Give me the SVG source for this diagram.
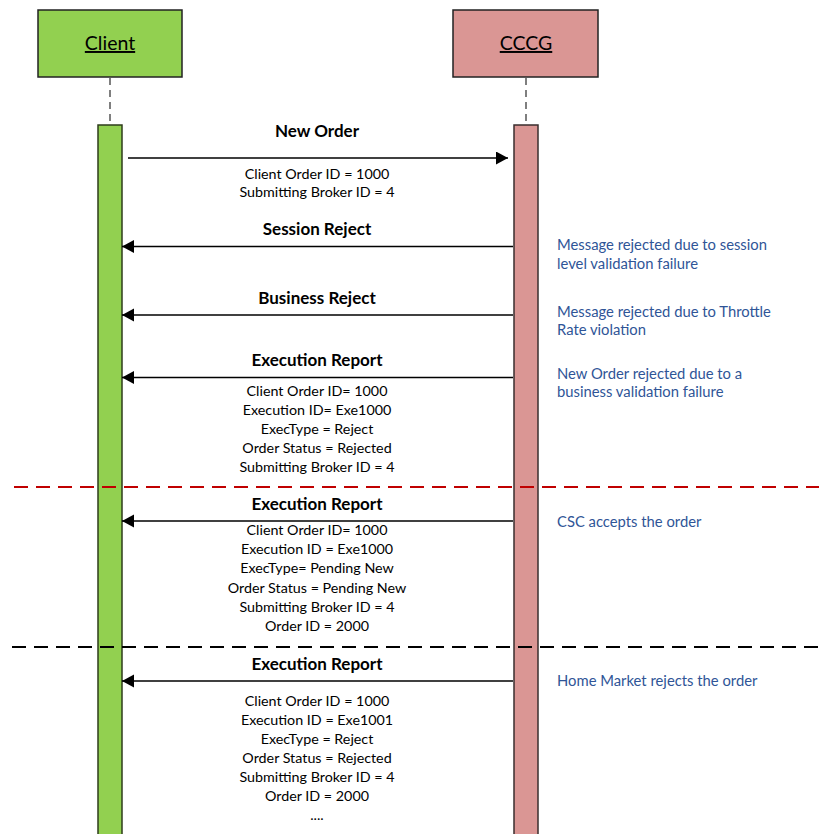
<svg xmlns="http://www.w3.org/2000/svg" width="819" height="834" viewBox="0 0 819 834">
<defs>
<marker id="ah" markerUnits="userSpaceOnUse" markerWidth="13" markerHeight="14" refX="12" refY="6.5" orient="auto">
<path d="M0,0 L12,6.5 L0,13 z" fill="#000"/>
</marker>
<style>
.head{stroke:#222;stroke-width:1.5}
.lbl{font-family:Lato,"Liberation Sans",sans-serif;}
.title{font-size:19.5px;text-decoration:underline;text-anchor:middle;fill:#000}
.msg{font-size:17px;font-weight:bold;text-anchor:middle;fill:#000}
.det{font-size:14.3px;text-anchor:middle;fill:#000}
.note{font-size:14.8px;fill:#2F5597}
.life{stroke:#555;stroke-width:1.5;stroke-dasharray:7,5}
.arr{stroke:#000;stroke-width:1.5;marker-end:url(#ah)}
</style>
</defs>
<rect width="819" height="834" fill="#fff"/>
<g id="client">
<rect class="head" x="38" y="10" width="144" height="67" fill="#92D050"/>
<text class="lbl title" x="110" y="50">Client</text>
<line class="life" x1="110" y1="78" x2="110" y2="125"/>
<rect x="98" y="125" width="24" height="712" fill="#92D050" stroke="#2E3D1B" stroke-width="1.5"/>
</g>
<g id="cccg">
<rect class="head" x="453" y="10" width="145" height="67" fill="#DA9694"/>
<text class="lbl title" x="526" y="50">CCCG</text>
<line class="life" x1="526" y1="78" x2="526" y2="125"/>
<rect x="514" y="125" width="24" height="712" fill="#DA9694" stroke="#3A2E2E" stroke-width="1.5"/>
</g>
<g id="separators">
<line x1="14" y1="487" x2="819" y2="487" stroke="#C00000" stroke-width="2" stroke-dasharray="14,8"/>
<line x1="12" y1="647" x2="819" y2="647" stroke="#000" stroke-width="2" stroke-dasharray="14,8"/>
</g>
<g id="connectors">
<line class="arr" x1="128" y1="158" x2="508" y2="158"/>
<line class="arr" x1="513" y1="246.5" x2="122" y2="246.5"/>
<line class="arr" x1="513" y1="315" x2="122" y2="315"/>
<line class="arr" x1="513" y1="377.5" x2="122" y2="377.5"/>
<line class="arr" x1="513" y1="521" x2="122" y2="521"/>
<line class="arr" x1="513" y1="681" x2="122" y2="681"/>
</g>
<g id="msg-new-order">
<text class="lbl msg" x="317" y="137">New Order</text>
<text class="lbl det" x="317" y="179">Client Order ID = 1000</text>
<text class="lbl det" x="317" y="197">Submitting Broker ID = 4</text>
</g>
<g id="msg-session-reject">
<text class="lbl msg" x="317" y="235">Session Reject</text>
</g>
<g id="msg-business-reject">
<text class="lbl msg" x="317" y="304">Business Reject</text>
</g>
<g id="msg-exec1">
<text class="lbl msg" x="317" y="366">Execution Report</text>
<text class="lbl det" x="317" y="396">Client Order ID= 1000</text>
<text class="lbl det" x="317" y="415">Execution ID= Exe1000</text>
<text class="lbl det" x="317" y="434">ExecType = Reject</text>
<text class="lbl det" x="317" y="453">Order Status = Rejected</text>
<text class="lbl det" x="317" y="472">Submitting Broker ID = 4</text>
</g>
<g id="msg-exec2">
<text class="lbl msg" x="317" y="510">Execution Report</text>
<text class="lbl det" x="317" y="535">Client Order ID= 1000</text>
<text class="lbl det" x="317" y="554">Execution ID = Exe1000</text>
<text class="lbl det" x="317" y="573">ExecType= Pending New</text>
<text class="lbl det" x="317" y="593">Order Status = Pending New</text>
<text class="lbl det" x="317" y="612">Submitting Broker ID = 4</text>
<text class="lbl det" x="317" y="631">Order ID = 2000</text>
</g>
<g id="msg-exec3">
<text class="lbl msg" x="317" y="670">Execution Report</text>
<text class="lbl det" x="317" y="706">Client Order ID = 1000</text>
<text class="lbl det" x="317" y="725">Execution ID = Exe1001</text>
<text class="lbl det" x="317" y="744">ExecType = Reject</text>
<text class="lbl det" x="317" y="763">Order Status = Rejected</text>
<text class="lbl det" x="317" y="782">Submitting Broker ID = 4</text>
<text class="lbl det" x="317" y="801">Order ID = 2000</text>
<text class="lbl det" x="317" y="820">....</text>
</g>
<g id="notes">
<text class="lbl note" x="557" y="250">Message rejected due to session</text>
<text class="lbl note" x="557" y="269">level validation failure</text>
<text class="lbl note" x="557" y="317">Message rejected due to Throttle</text>
<text class="lbl note" x="557" y="335">Rate violation</text>
<text class="lbl note" x="557" y="379">New Order rejected due to a</text>
<text class="lbl note" x="557" y="397">business validation failure</text>
<text class="lbl note" x="557" y="527">CSC accepts the order</text>
<text class="lbl note" x="557" y="686">Home Market rejects the order</text>
</g>
</svg>
